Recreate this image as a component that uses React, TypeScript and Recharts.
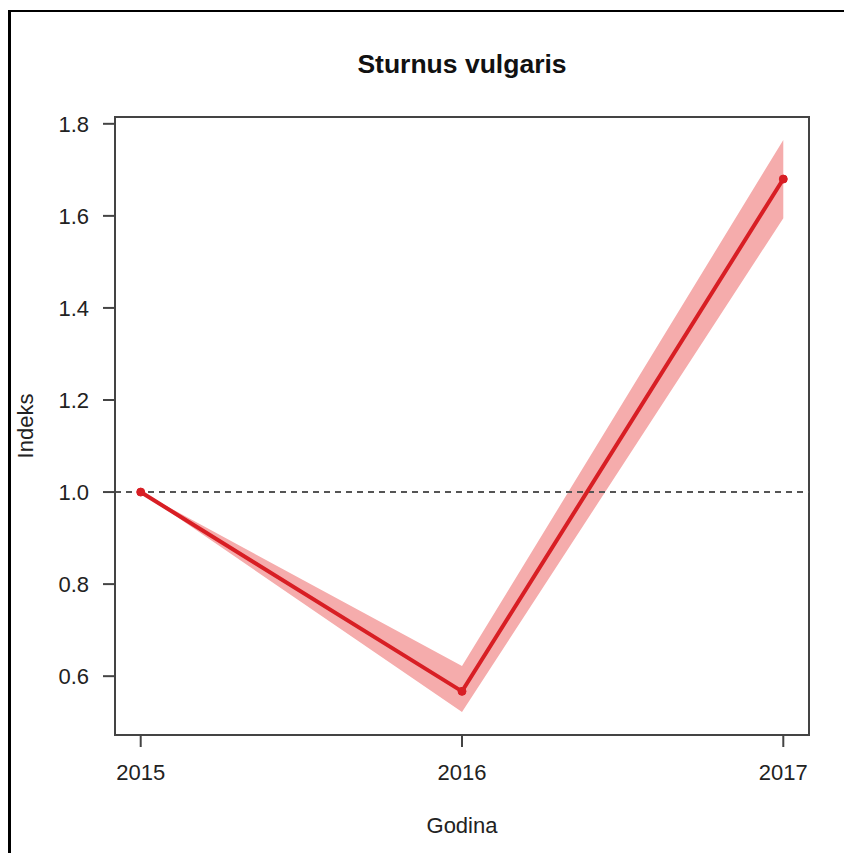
import {
  ComposedChart, Line, Area, XAxis, YAxis, ReferenceLine, ReferenceArea,
} from 'recharts'

// Indeks po godinama, s pojasom pouzdanosti
const godine = [2015, 2016, 2017]
const indeks = [1.0, 0.567, 1.68]
const donja = [1.0, 0.522, 1.595]
const gornja = [1.0, 0.622, 1.765]

const xTicks = [2015, 2016, 2017]
const yTicks = [0.6, 0.8, 1.0, 1.2, 1.4, 1.6, 1.8]

const xDomain: [number, number] = [2014.92, 2017.08]
const yDomain: [number, number] = [0.4722, 1.8148]

const FONT = '"Liberation Sans", Arial, Helvetica, sans-serif'
const AXIS = '#444'
const RED = '#d81e24'
const BAND = '#f5acac'

const data = godine.map((g, i) => ({
  godina: g,
  indeks: indeks[i],
  pojas: [donja[i], gornja[i]],
}))

export default function App() {
  return (
    <div style={{ position: 'relative', width: 852, height: 861, margin: -8, background: '#fff', fontFamily: FONT, overflow: 'hidden' }}>
      <div
        style={{
          position: 'absolute', left: 8, top: 10, width: 860, height: 870,
          borderTop: '2px solid #000', borderLeft: '3px solid #000',
        }}
      />
      <div
        style={{
          position: 'absolute', left: 262, width: 400, top: 49, textAlign: 'center',
          fontSize: 26.5, fontWeight: 'bold', color: '#111', lineHeight: '30px',
        }}
      >
        Sturnus vulgaris
      </div>
      <div style={{ position: 'absolute', left: 0, top: 0 }}>
        <ComposedChart
          width={852}
          height={861}
          data={data}
          margin={{ top: 117, right: 43, left: 0, bottom: 0 }}
        >
          <XAxis
            dataKey="godina"
            type="number"
            domain={xDomain}
            ticks={xTicks}
            allowDataOverflow
            height={126}
            tickSize={12}
            tickMargin={17}
            axisLine={{ stroke: AXIS, strokeWidth: 2 }}
            tickLine={{ stroke: AXIS, strokeWidth: 2 }}
            tick={{ fill: '#222', fontSize: 22, fontFamily: FONT }}
            label={{
              content: ({ viewBox }: any) => (
                <text
                  x={viewBox.x + viewBox.width / 2}
                  y={viewBox.y + 98}
                  textAnchor="middle"
                  fill="#222"
                  fontSize={22}
                  fontFamily={FONT}
                >
                  Godina
                </text>
              ),
            }}
          />
          <YAxis
            type="number"
            domain={yDomain}
            ticks={yTicks}
            allowDataOverflow
            width={115}
            tickSize={12}
            tickMargin={14}
            axisLine={{ stroke: AXIS, strokeWidth: 2 }}
            tickLine={{ stroke: AXIS, strokeWidth: 2 }}
            tick={{ fill: '#222', fontSize: 22, fontFamily: FONT }}
            tickFormatter={(v: number) => v.toFixed(1)}
            label={{
              content: ({ viewBox }: any) => {
                const cx = viewBox.x + 25
                const cy = viewBox.y + viewBox.height / 2
                return (
                  <text
                    x={cx}
                    y={cy}
                    transform={`rotate(-90 ${cx} ${cy})`}
                    textAnchor="middle"
                    dominantBaseline="central"
                    fill="#222"
                    fontSize={22}
                    fontFamily={FONT}
                  >
                    Indeks
                  </text>
                )
              },
            }}
          />
          <Area
            dataKey="pojas"
            type="linear"
            stroke="none"
            fill={BAND}
            fillOpacity={1}
            isAnimationActive={false}
            activeDot={false}
          />
          <ReferenceLine y={1} stroke="#555" strokeWidth={2} strokeDasharray="6 5" />
          <Line
            dataKey="indeks"
            type="linear"
            stroke={RED}
            strokeWidth={4}
            dot={{ r: 4, fill: RED, stroke: RED, strokeWidth: 1 }}
            activeDot={false}
            isAnimationActive={false}
          />
          <ReferenceArea
            x1={xDomain[0]}
            x2={xDomain[1]}
            y1={yDomain[0]}
            y2={yDomain[1]}
            fill="none"
            stroke={AXIS}
            strokeWidth={2}
          />
        </ComposedChart>
      </div>
    </div>
  )
}
